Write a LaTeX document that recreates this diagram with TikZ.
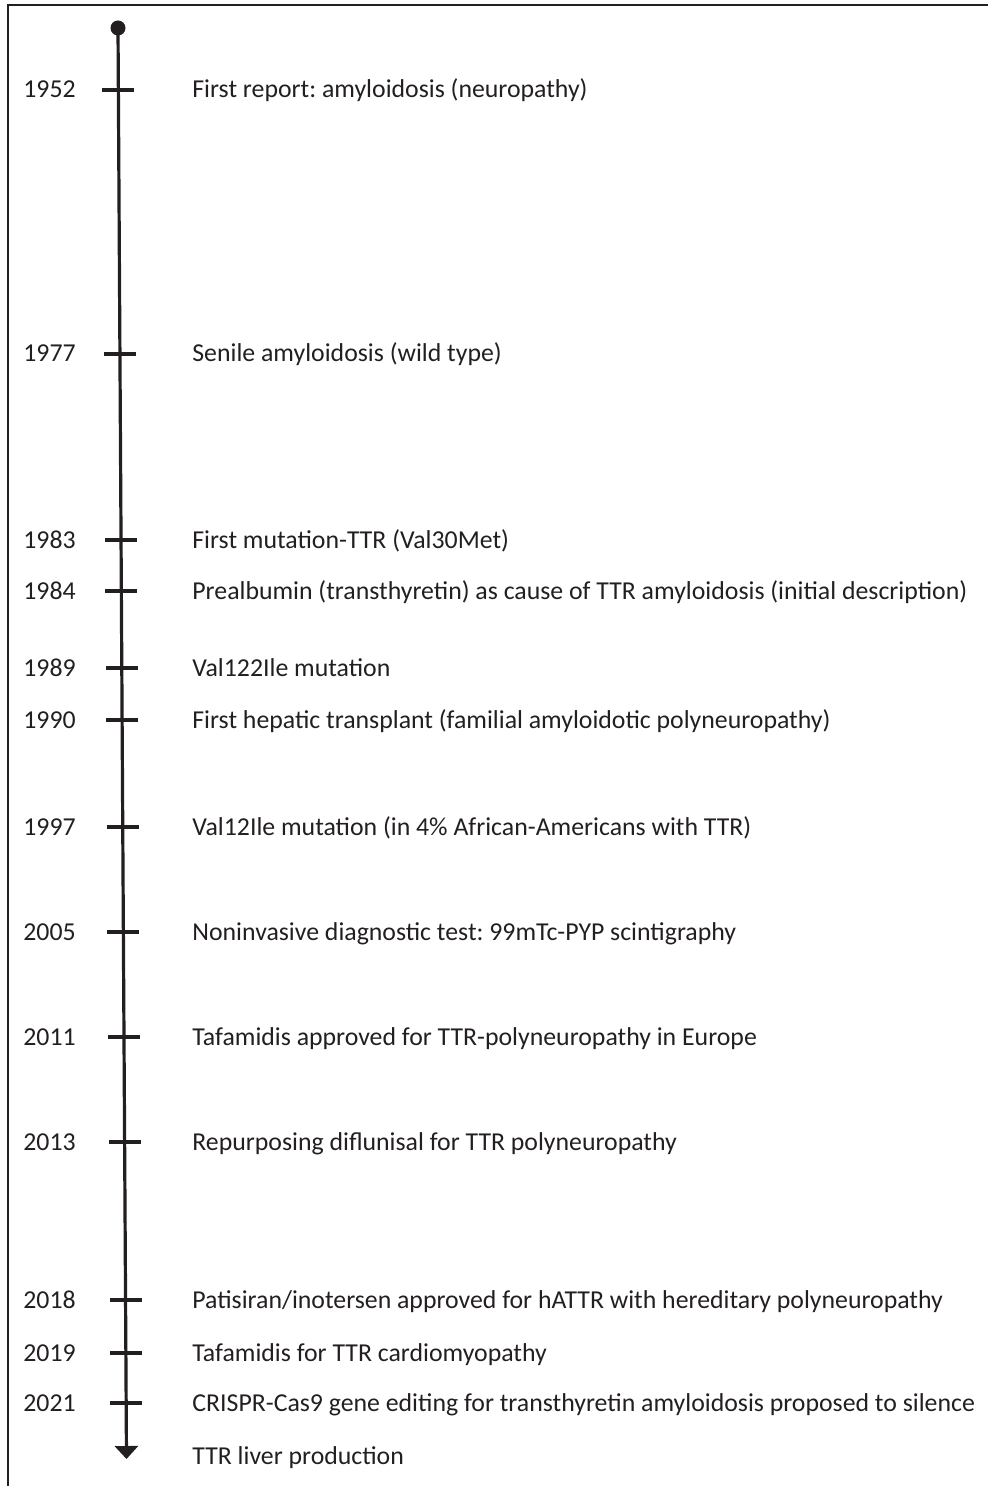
\documentclass[tikz,border=0pt]{standalone}
\usepackage{fontspec}
\setmainfont{Carlito}
\frenchspacing
\usetikzlibrary{arrows.meta}
\definecolor{ink}{HTML}{231F20}
\begin{document}
\begin{tikzpicture}[x=0.5pt,y=-0.5pt,
  yearlbl/.style={anchor=base west,inner sep=0pt,text=ink,font=\fontsize{12.9}{15}\selectfont},
  eventlbl/.style={anchor=base west,inner sep=0pt,text=ink,font=\fontsize{12.9}{15}\selectfont},
  tickmark/.style={draw=ink,line width=1.6pt},
  axisline/.style={draw=ink,line width=1.6pt},
  framelin/.style={draw=ink,line width=1pt}]
\useasboundingbox (0,0) rectangle (988,1486);
% frame (top and left)
\coordinate (fbl) at (8,1486);
\coordinate (ftl) at (8,5);
\coordinate (ftr) at (988,5);
\draw[framelin] (fbl) -- (ftl) -- (ftr);
% axis
\coordinate (top) at (118,28);
\coordinate (bot) at (126.5,1459);
\fill[ink] (top) circle (7.5);
\draw[axisline,-{Triangle[length=13*0.5pt,width=23*0.5pt]}] (top) -- (bot);
% entries: y, year, text
\foreach \yy/\yr/\txt [count=\i] in {
  90/1952/{First report: amyloidosis (neuropathy)},
  354/1977/{Senile amyloidosis (wild type)},
  540/1983/{First mutation-TTR (Val30Met)},
  591/1984/{Prealbumin (transthyretin) as cause of TTR amyloidosis (initial description)},
  668/1989/{Val122Ile mutation},
  720/1990/{First hepatic transplant (familial amyloidotic polyneuropathy)},
  827/1997/{Val12Ile mutation (in 4\% African-Americans with TTR)},
  932/2005/{Noninvasive diagnostic test: 99mTc-PYP scintigraphy},
  1037/2011/{Tafamidis approved for TTR-polyneuropathy in Europe},
  1142/2013/{Repurposing diflunisal for TTR polyneuropathy},
  1300/2018/{Patisiran/inotersen approved for hATTR with hereditary polyneuropathy},
  1353/2019/{Tafamidis for TTR cardiomyopathy},
  1403/2021/{CRISPR-Cas9 gene editing for transthyretin amyloidosis proposed to silence}}
{
  \pgfmathsetmacro{\xc}{118+(\yy-28)*8.5/1431}
  \coordinate (tl\i) at (\xc-16,\yy);
  \coordinate (tr\i) at (\xc+16,\yy);
  \draw[tickmark] (tl\i) -- (tr\i);
  \node[yearlbl] (yr\i) at (23,\yy+8) {\yr};
  \node[eventlbl] (ev\i) at (192,\yy+8) {\txt};
}
\node[eventlbl] (ev14) at (192,1464) {TTR liver production};
\end{tikzpicture}
\end{document}
